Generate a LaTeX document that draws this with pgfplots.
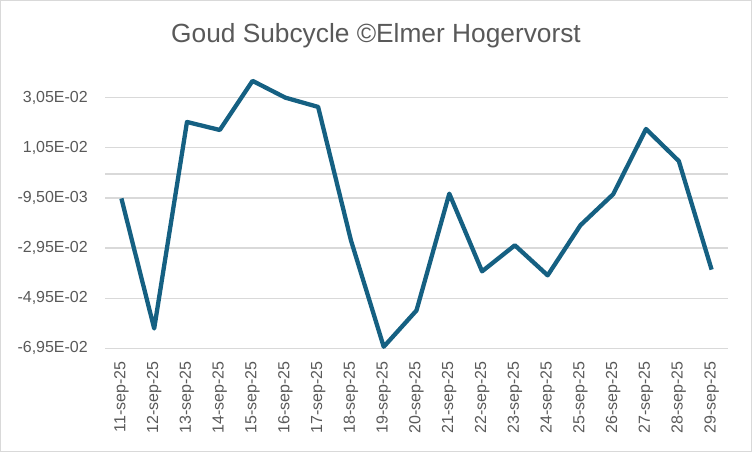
\documentclass[border=0pt]{standalone}
\usepackage{pgfplots}
\pgfplotsset{compat=1.18}
\usepackage{fontspec}
\setmainfont{Liberation Sans}
\definecolor{goudline}{HTML}{156082}
\definecolor{txtgray}{HTML}{595959}
\definecolor{gridgray}{HTML}{D9D9D9}

\pgfplotstableread{
idx value
0  -0.0097
1  -0.0616
2   0.0208
3   0.0176
4   0.0372
5   0.0305
6   0.0268
7  -0.0264
8  -0.0689
9  -0.0544
10 -0.0078
11 -0.0388
12 -0.0284
13 -0.0404
14 -0.0204
15 -0.0080
16  0.0180
17  0.0052
18 -0.0381
}\goud

\begin{document}
\begin{tikzpicture}
\useasboundingbox (0,0) rectangle (752pt,452pt);
\draw[gridgray, line width=1.2pt] (0.6pt,0.6pt) rectangle (751.4pt,451.4pt);
\begin{axis}[
    at={(105pt,103.7pt)},
    anchor=south west,
    scale only axis,
    width=623pt,
    height=275.7pt,
    xmin=-0.5, xmax=18.5,
    ymin=-0.0695, ymax=0.0405,
    axis line style={draw=none},
    major tick length=0pt,
    scaled y ticks=false,
    xtick={0,...,18},
    xticklabels={11-sep-25,12-sep-25,13-sep-25,14-sep-25,15-sep-25,16-sep-25,17-sep-25,18-sep-25,19-sep-25,20-sep-25,21-sep-25,22-sep-25,23-sep-25,24-sep-25,25-sep-25,26-sep-25,27-sep-25,28-sep-25,29-sep-25},
    xticklabel style={yshift=-13pt, rotate=90, anchor=east, inner sep=0pt, font=\fontsize{16}{19}\selectfont, text=txtgray},
    ytick={-0.0695,-0.0495,-0.0295,-0.0095,0.0105,0.0305},
    yticklabels={{-6,95E-02},{-4,95E-02},{-2,95E-02},{-9,50E-03},{1,05E-02},{3,05E-02}},
    yticklabel style={anchor=east, inner sep=0pt, xshift=-17pt, font=\fontsize{16}{19}\selectfont, text=txtgray},
    ymajorgrids,
    grid style={gridgray, line width=1.3pt},
    extra y ticks={0},
    extra y tick labels={},
    extra y tick style={ymajorgrids, grid style={gridgray, line width=1.3pt}},
    title={Goud Subcycle \textcopyright Elmer Hogervorst},
    title style={at={(0.5,1)}, anchor=center, xshift=-40.5pt, yshift=30.6pt, font=\fontsize{26.3}{31}\selectfont, text=txtgray},
    clip=false,
]
\addplot[color=goudline, line width=4.3pt, line join=round] table[x=idx, y=value] {\goud};
\end{axis}
\end{tikzpicture}
\end{document}
